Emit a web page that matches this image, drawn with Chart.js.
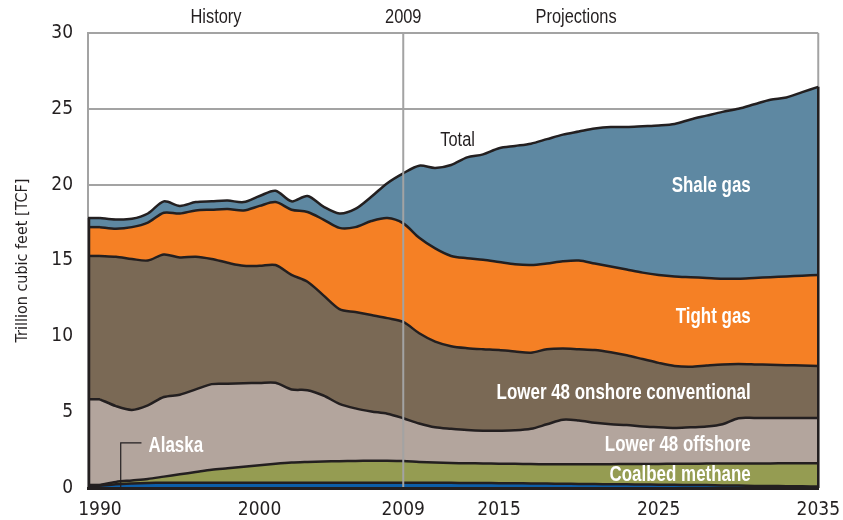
<!DOCTYPE html>
<html>
<head>
<meta charset="utf-8">
<script src="https://cdn.jsdelivr.net/npm/chart.js@4.4.1/dist/chart.umd.min.js"></script>
<style>
  html, body { margin: 0; padding: 0; background: #fff; }
  #wrap { width: 843px; height: 520px; }
</style>
</head>
<body>
<div id="wrap"><canvas id="gasChart" width="843" height="520"></canvas></div>
<script>
// years on the x axis
let years = [1990, 1991, 1992, 1993, 1994, 1995, 1996, 1997, 1998, 1999,
  2000, 2001, 2002, 2003, 2004, 2005, 2006, 2007, 2008, 2009,
  2010, 2011, 2012, 2013, 2014, 2015, 2016, 2017, 2018, 2019,
  2020, 2021, 2022, 2023, 2024, 2025, 2026, 2027, 2028, 2029,
  2030, 2031, 2032, 2033, 2034, 2035];
// tick labels shown under the axis
let tickYears = [1990, 2000, 2009, 2015, 2025, 2035];
let yTicks = [0, 5, 10, 15, 20, 25, 30];

// production by source, trillion cubic feet (stacked bottom to top)
let alaska = [0.15, 0.25, 0.3, 0.33, 0.35, 0.35, 0.35, 0.35, 0.35, 0.35,
  0.35, 0.35, 0.35, 0.35, 0.35, 0.35, 0.35, 0.35, 0.35, 0.35,
  0.35, 0.34, 0.34, 0.33, 0.33, 0.32, 0.31, 0.3, 0.29, 0.28,
  0.27, 0.26, 0.25, 0.24, 0.23, 0.22, 0.21, 0.2, 0.19, 0.17,
  0.16, 0.14, 0.13, 0.12, 0.11, 0.1];
let coalbed = [0.05, 0.15, 0.2, 0.27, 0.4, 0.55, 0.7, 0.85, 0.95, 1.05,
  1.15, 1.25, 1.33, 1.37, 1.4, 1.42, 1.43, 1.45, 1.45, 1.43,
  1.37, 1.34, 1.31, 1.3, 1.29, 1.28, 1.29, 1.28, 1.28, 1.29,
  1.3, 1.31, 1.32, 1.34, 1.35, 1.37, 1.39, 1.4, 1.42, 1.44,
  1.46, 1.48, 1.49, 1.51, 1.52, 1.53];
let offshore = [5.65, 5.0, 4.65, 4.85, 5.25, 5.25, 5.45, 5.65, 5.57, 5.5,
  5.43, 5.34, 4.82, 4.73, 4.35, 3.78, 3.47, 3.25, 3.1, 2.82,
  2.53, 2.32, 2.25, 2.19, 2.16, 2.18, 2.2, 2.32, 2.63, 2.93,
  2.88, 2.73, 2.63, 2.57, 2.47, 2.41, 2.35, 2.4, 2.44, 2.59,
  2.98, 3.0, 3.0, 2.99, 2.99, 2.99];
let onshore = [9.45, 9.85, 9.95, 9.55, 9.4, 9.05, 8.75, 8.25, 7.98, 7.75,
  7.72, 7.76, 7.55, 7.15, 6.6, 6.25, 6.35, 6.35, 6.3, 6.35,
  5.95, 5.65, 5.45, 5.4, 5.37, 5.32, 5.2, 5.02, 4.95, 4.7,
  4.7, 4.8, 4.75, 4.6, 4.45, 4.25, 4.1, 4.0, 4.03, 3.95,
  3.57, 3.53, 3.5, 3.48, 3.45, 3.42];
let tightGas = [1.9, 1.85, 2.1, 2.5, 2.75, 2.9, 3.05, 3.25, 3.55, 3.65,
  3.95, 4.15, 4.3, 4.6, 5.0, 5.35, 5.6, 6.2, 6.6, 6.5,
  6.3, 6.15, 5.95, 5.93, 5.9, 5.8, 5.75, 5.78, 5.65, 5.75,
  5.85, 5.7, 5.65, 5.65, 5.7, 5.8, 5.9, 5.9, 5.77, 5.65,
  5.63, 5.7, 5.78, 5.85, 5.93, 6.01];
let shaleGas = [0.6, 0.6, 0.55, 0.6, 0.75, 0.5, 0.55, 0.55, 0.55, 0.55,
  0.65, 0.75, 0.55, 1.05, 0.85, 0.95, 1.2, 1.6, 2.3, 3.3,
  4.75, 5.3, 6.0, 6.65, 6.95, 7.5, 7.8, 8.0, 8.2, 8.35,
  8.5, 8.9, 9.2, 9.4, 9.65, 9.85, 10.05, 10.4, 10.7, 11.0,
  11.2, 11.45, 11.7, 11.8, 12.1, 12.4];

let seriesNames = ['Alaska', 'Coalbed methane', 'Lower 48 offshore',
  'Lower 48 onshore conventional', 'Tight gas', 'Shale gas'];
let seriesData = [alaska, coalbed, offshore, onshore, tightGas, shaleGas];
let seriesColors = ['#0d5ea8', '#959c52', '#b3a59d', '#7a6955', '#f58025', '#5e88a2'];

const FONT = '"DejaVu Sans Condensed", "Liberation Sans", sans-serif';
const TEXT_FONT = '"Liberation Sans", Arial, sans-serif';
const INK = '#231f20';
const GRID = '#a3a3a3';
// the axis starts a little before the first year, as in the original
const X_MIN = 1989.25;

// in-chart labels, placed in data units (year, TCF)
let areaLabels = [
  { text: 'Shale gas', x: 2030.77, y: 19.9, align: 'right' },
  { text: 'Tight gas', x: 2030.77, y: 11.27, align: 'right' },
  { text: 'Lower 48 onshore conventional', x: 2030.77, y: 6.26, align: 'right' },
  { text: 'Lower 48 offshore', x: 2030.77, y: 2.84, align: 'right' },
  { text: 'Coalbed methane', x: 2030.77, y: 0.86, align: 'right' },
  { text: 'Alaska', x: 1993.04, y: 2.77, align: 'left' }
];

let datasets = seriesData.map((vals, i) => ({
  label: seriesNames[i],
  data: vals.map((v, j) => ({ x: years[j], y: v })),
  backgroundColor: seriesColors[i],
  borderColor: INK,
  borderWidth: 2.5,
  pointRadius: 0,
  tension: 0.3,
  fill: i === 0 ? 'origin' : '-1'
}));

// condensed-looking text
function narrowText(ctx, text, px, py, align, squeeze) {
  ctx.save();
  ctx.translate(px, py);
  ctx.scale(squeeze, 1);
  ctx.textAlign = align;
  ctx.textBaseline = 'middle';
  ctx.fillText(text, 0, 0);
  ctx.restore();
}

// frame, lead-in strip, 2009 divider, outer edges and text
let decor = {
  id: 'decor',
  beforeDatasetsDraw(chart) {
    const { ctx, chartArea: a, scales: { x, y } } = chart;
    ctx.save();
    ctx.strokeStyle = GRID;
    ctx.lineWidth = 2;
    ctx.beginPath();
    ctx.moveTo(a.right, a.top);
    ctx.lineTo(a.right, a.bottom);
    ctx.stroke();

    // carry the first year's stack back to the axis edge
    const x0 = x.getPixelForValue(years[0]);
    let base = 0;
    seriesData.forEach((d, i) => {
      const top = base + d[0];
      ctx.fillStyle = seriesColors[i];
      ctx.fillRect(a.left, y.getPixelForValue(top), x0 - a.left + 1,
        y.getPixelForValue(base) - y.getPixelForValue(top));
      base = top;
    });
    ctx.strokeStyle = INK;
    ctx.lineWidth = 2.5;
    base = 0;
    seriesData.forEach(d => {
      base += d[0];
      ctx.beginPath();
      ctx.moveTo(a.left, y.getPixelForValue(base));
      ctx.lineTo(x0, y.getPixelForValue(base));
      ctx.stroke();
    });
    ctx.restore();
  },
  afterDatasetsDraw(chart) {
    const { ctx, chartArea: a, scales: { x, y } } = chart;
    const last = years.length - 1;
    const totalAt = i => seriesData.reduce((s, d) => s + d[i], 0);
    ctx.save();
    // black edges of the stacked area
    ctx.strokeStyle = INK;
    ctx.lineWidth = 2.5;
    ctx.beginPath();
    ctx.moveTo(a.left + 1, y.getPixelForValue(0));
    ctx.lineTo(a.left + 1, y.getPixelForValue(totalAt(0)));
    ctx.moveTo(x.getPixelForValue(years[last]), y.getPixelForValue(0));
    ctx.lineTo(x.getPixelForValue(years[last]), y.getPixelForValue(totalAt(last)));
    ctx.stroke();

    // 2009 divider
    const xd = x.getPixelForValue(2009);
    ctx.strokeStyle = GRID;
    ctx.lineWidth = 2;
    ctx.beginPath();
    ctx.moveTo(xd, a.top);
    ctx.lineTo(xd, a.bottom);
    ctx.stroke();

    // labels inside the areas
    ctx.fillStyle = '#ffffff';
    ctx.font = 'bold 22px ' + TEXT_FONT;
    areaLabels.forEach(l => {
      narrowText(ctx, l.text, x.getPixelForValue(l.x), y.getPixelForValue(l.y), l.align, 0.77);
    });

    // Alaska leader line
    ctx.strokeStyle = INK;
    ctx.lineWidth = 1.2;
    ctx.beginPath();
    ctx.moveTo(x.getPixelForValue(1992.6), y.getPixelForValue(2.97));
    ctx.lineTo(x.getPixelForValue(1991.3), y.getPixelForValue(2.97));
    ctx.lineTo(x.getPixelForValue(1991.3), y.getPixelForValue(0.05));
    ctx.stroke();

    // Total label and header texts
    ctx.fillStyle = INK;
    ctx.font = '20px ' + TEXT_FONT;
    narrowText(ctx, 'Total', x.getPixelForValue(2011.32), y.getPixelForValue(22.94), 'left', 0.82);
    narrowText(ctx, 'History', x.getPixelForValue(1997.27), 17, 'center', 0.82);
    narrowText(ctx, '2009', xd, 17, 'center', 0.82);
    narrowText(ctx, 'Projections', x.getPixelForValue(2019.83), 17, 'center', 0.82);
    ctx.restore();
  }
};

let ctx1 = document.getElementById('gasChart').getContext('2d');

let chart1 = new Chart(ctx1, {
  type: 'line',
  data: { datasets: datasets },
  options: {
    responsive: false,
    animation: false,
    layout: { padding: { top: 33, right: 19, left: 0, bottom: 0 } },
    plugins: {
      legend: { display: false },
      tooltip: { enabled: false }
    },
    scales: {
      x: {
        type: 'linear',
        min: X_MIN,
        max: years[years.length - 1],
        afterBuildTicks: s => { s.ticks = tickYears.map(v => ({ value: v })); },
        afterFit: s => { s.height = 32; },
        grid: { display: false },
        border: { display: true, color: INK, width: 3, z: 1 },
        ticks: {
          color: INK,
          font: { family: FONT, size: 19 },
          padding: 3,
          maxRotation: 0,
          autoSkip: false,
          callback: v => String(v)
        }
      },
      y: {
        stacked: true,
        min: 0,
        max: 30,
        afterBuildTicks: s => { s.ticks = yTicks.map(v => ({ value: v })); },
        afterFit: s => { s.width = 88; },
        grid: { color: GRID, lineWidth: 2, drawTicks: false },
        border: { display: true, color: GRID, width: 2 },
        ticks: {
          color: INK,
          font: { family: FONT, size: 19 },
          padding: 15
        },
        title: {
          display: true,
          text: 'Trillion cubic feet [TCF]',
          color: INK,
          font: { family: FONT, size: 16 },
          padding: { top: 13, bottom: 0 }
        }
      }
    }
  },
  plugins: [decor]
});
</script>
</body>
</html>
